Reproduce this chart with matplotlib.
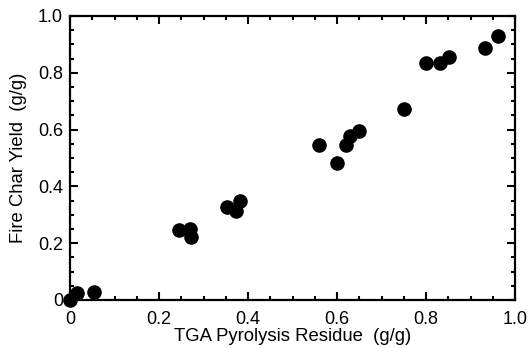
import matplotlib
matplotlib.use("Agg")
import matplotlib.pyplot as plt
from matplotlib.ticker import MultipleLocator, FixedFormatter, FixedLocator

tga_residue = [0.0, 0.015, 0.055, 0.245, 0.27, 0.273, 0.352, 0.373, 0.382,
               0.560, 0.601, 0.620, 0.629, 0.650, 0.751, 0.799, 0.831, 0.852,
               0.933, 0.962]
fire_char = [0.0, 0.025, 0.029, 0.246, 0.249, 0.223, 0.326, 0.315, 0.350,
             0.546, 0.481, 0.546, 0.579, 0.595, 0.672, 0.833, 0.833, 0.855,
             0.888, 0.930]
tick_vals = [0, 0.2, 0.4, 0.6, 0.8, 1.0]
tick_labels = ["0", "0.2", "0.4", "0.6", "0.8", "1.0"]

plt.rcParams['font.family'] = ['Liberation Sans', 'DejaVu Sans']

fig = plt.figure(figsize=(5.29, 3.48), dpi=100)
ax = fig.add_axes([70/529, 48/348, 445/529, 284/348])
ax.scatter(tga_residue, fire_char, s=90, color='black', zorder=3, clip_on=False)
ax.set_xlim(0, 1)
ax.set_ylim(0, 1)
ax.xaxis.set_major_locator(FixedLocator(tick_vals))
ax.xaxis.set_major_formatter(FixedFormatter(tick_labels))
ax.yaxis.set_major_locator(FixedLocator(tick_vals))
ax.yaxis.set_major_formatter(FixedFormatter(tick_labels))
ax.xaxis.set_minor_locator(MultipleLocator(0.05))
ax.yaxis.set_minor_locator(MultipleLocator(0.05))
ax.tick_params(which='both', direction='in', top=True, right=True, width=1.5,
               labelsize=13, colors='black')
ax.tick_params(which='major', length=6)
ax.tick_params(axis='x', which='major', pad=8)
ax.tick_params(axis='y', which='major', pad=5)
ax.tick_params(which='minor', length=3)
for sp in ax.spines.values():
    sp.set_linewidth(1.6)
ax.set_xlabel("TGA Pyrolysis Residue  (g/g)", fontsize=13.3, labelpad=0)
ax.set_ylabel("Fire Char Yield  (g/g)", fontsize=13.3, labelpad=8)
fig.savefig("out.png", dpi=100)
